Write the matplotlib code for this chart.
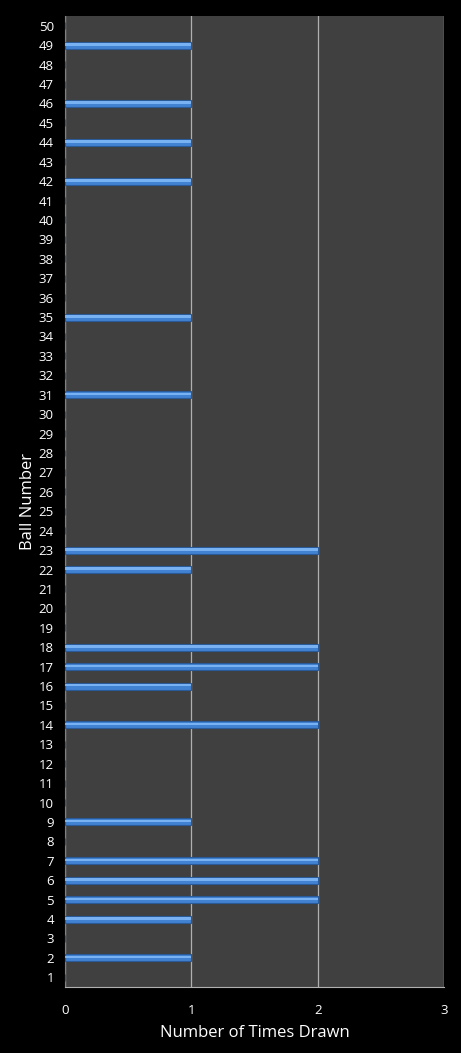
import matplotlib

matplotlib.use("Agg")
import matplotlib.pyplot as plt

balls = list(range(1, 51))
drawn_balls = [2, 4, 5, 6, 7, 9, 14, 16, 17, 18, 22, 23, 31, 35, 42, 44, 46, 49]
drawn_counts = [1, 1, 2, 2, 2, 1, 2, 1, 2, 2, 1, 2, 1, 1, 1, 1, 1, 1]
counts = [dict(zip(drawn_balls, drawn_counts)).get(b, 0) for b in balls]

plt.rcParams["font.family"] = ["Open Sans", "DejaVu Sans"]

fig = plt.figure(figsize=(4.61, 10.53), dpi=100, facecolor="black")
ax = fig.add_axes([0.141, 0.0627, 0.822, 0.922])
ax.set_facecolor("#404040")

# bar body + highlight stripe to mimic the bevelled look
ax.barh(balls, counts, height=0.36, color="#4282d2", edgecolor="#2a5a98",
        linewidth=0.8, zorder=3)
ax.barh([b + 0.04 for b in balls], counts, height=0.13, color="#78b2f2",
        linewidth=0, zorder=4)

ax.set_xlim(0, 3)
ax.set_ylim(0.5, 50.5)
ax.set_xticks([0, 1, 2, 3])
ax.set_yticks(balls)
ax.grid(axis="x", color="#b0b0b0", linewidth=0.9, zorder=1)
ax.tick_params(colors="white", labelsize=9.5, length=0, pad=8)
ax.tick_params(axis="x", pad=12)
for s in ["top", "right"]:
    ax.spines[s].set_visible(False)
ax.spines["left"].set_color("#808080")
ax.spines["bottom"].set_color("#b0b0b0")

ax.set_xlabel("Number of Times Drawn", color="white", fontsize=12, labelpad=6)
ax.set_ylabel("Ball Number", color="white", fontsize=12, labelpad=2)

fig.savefig("out.png", dpi=100, facecolor="black")
